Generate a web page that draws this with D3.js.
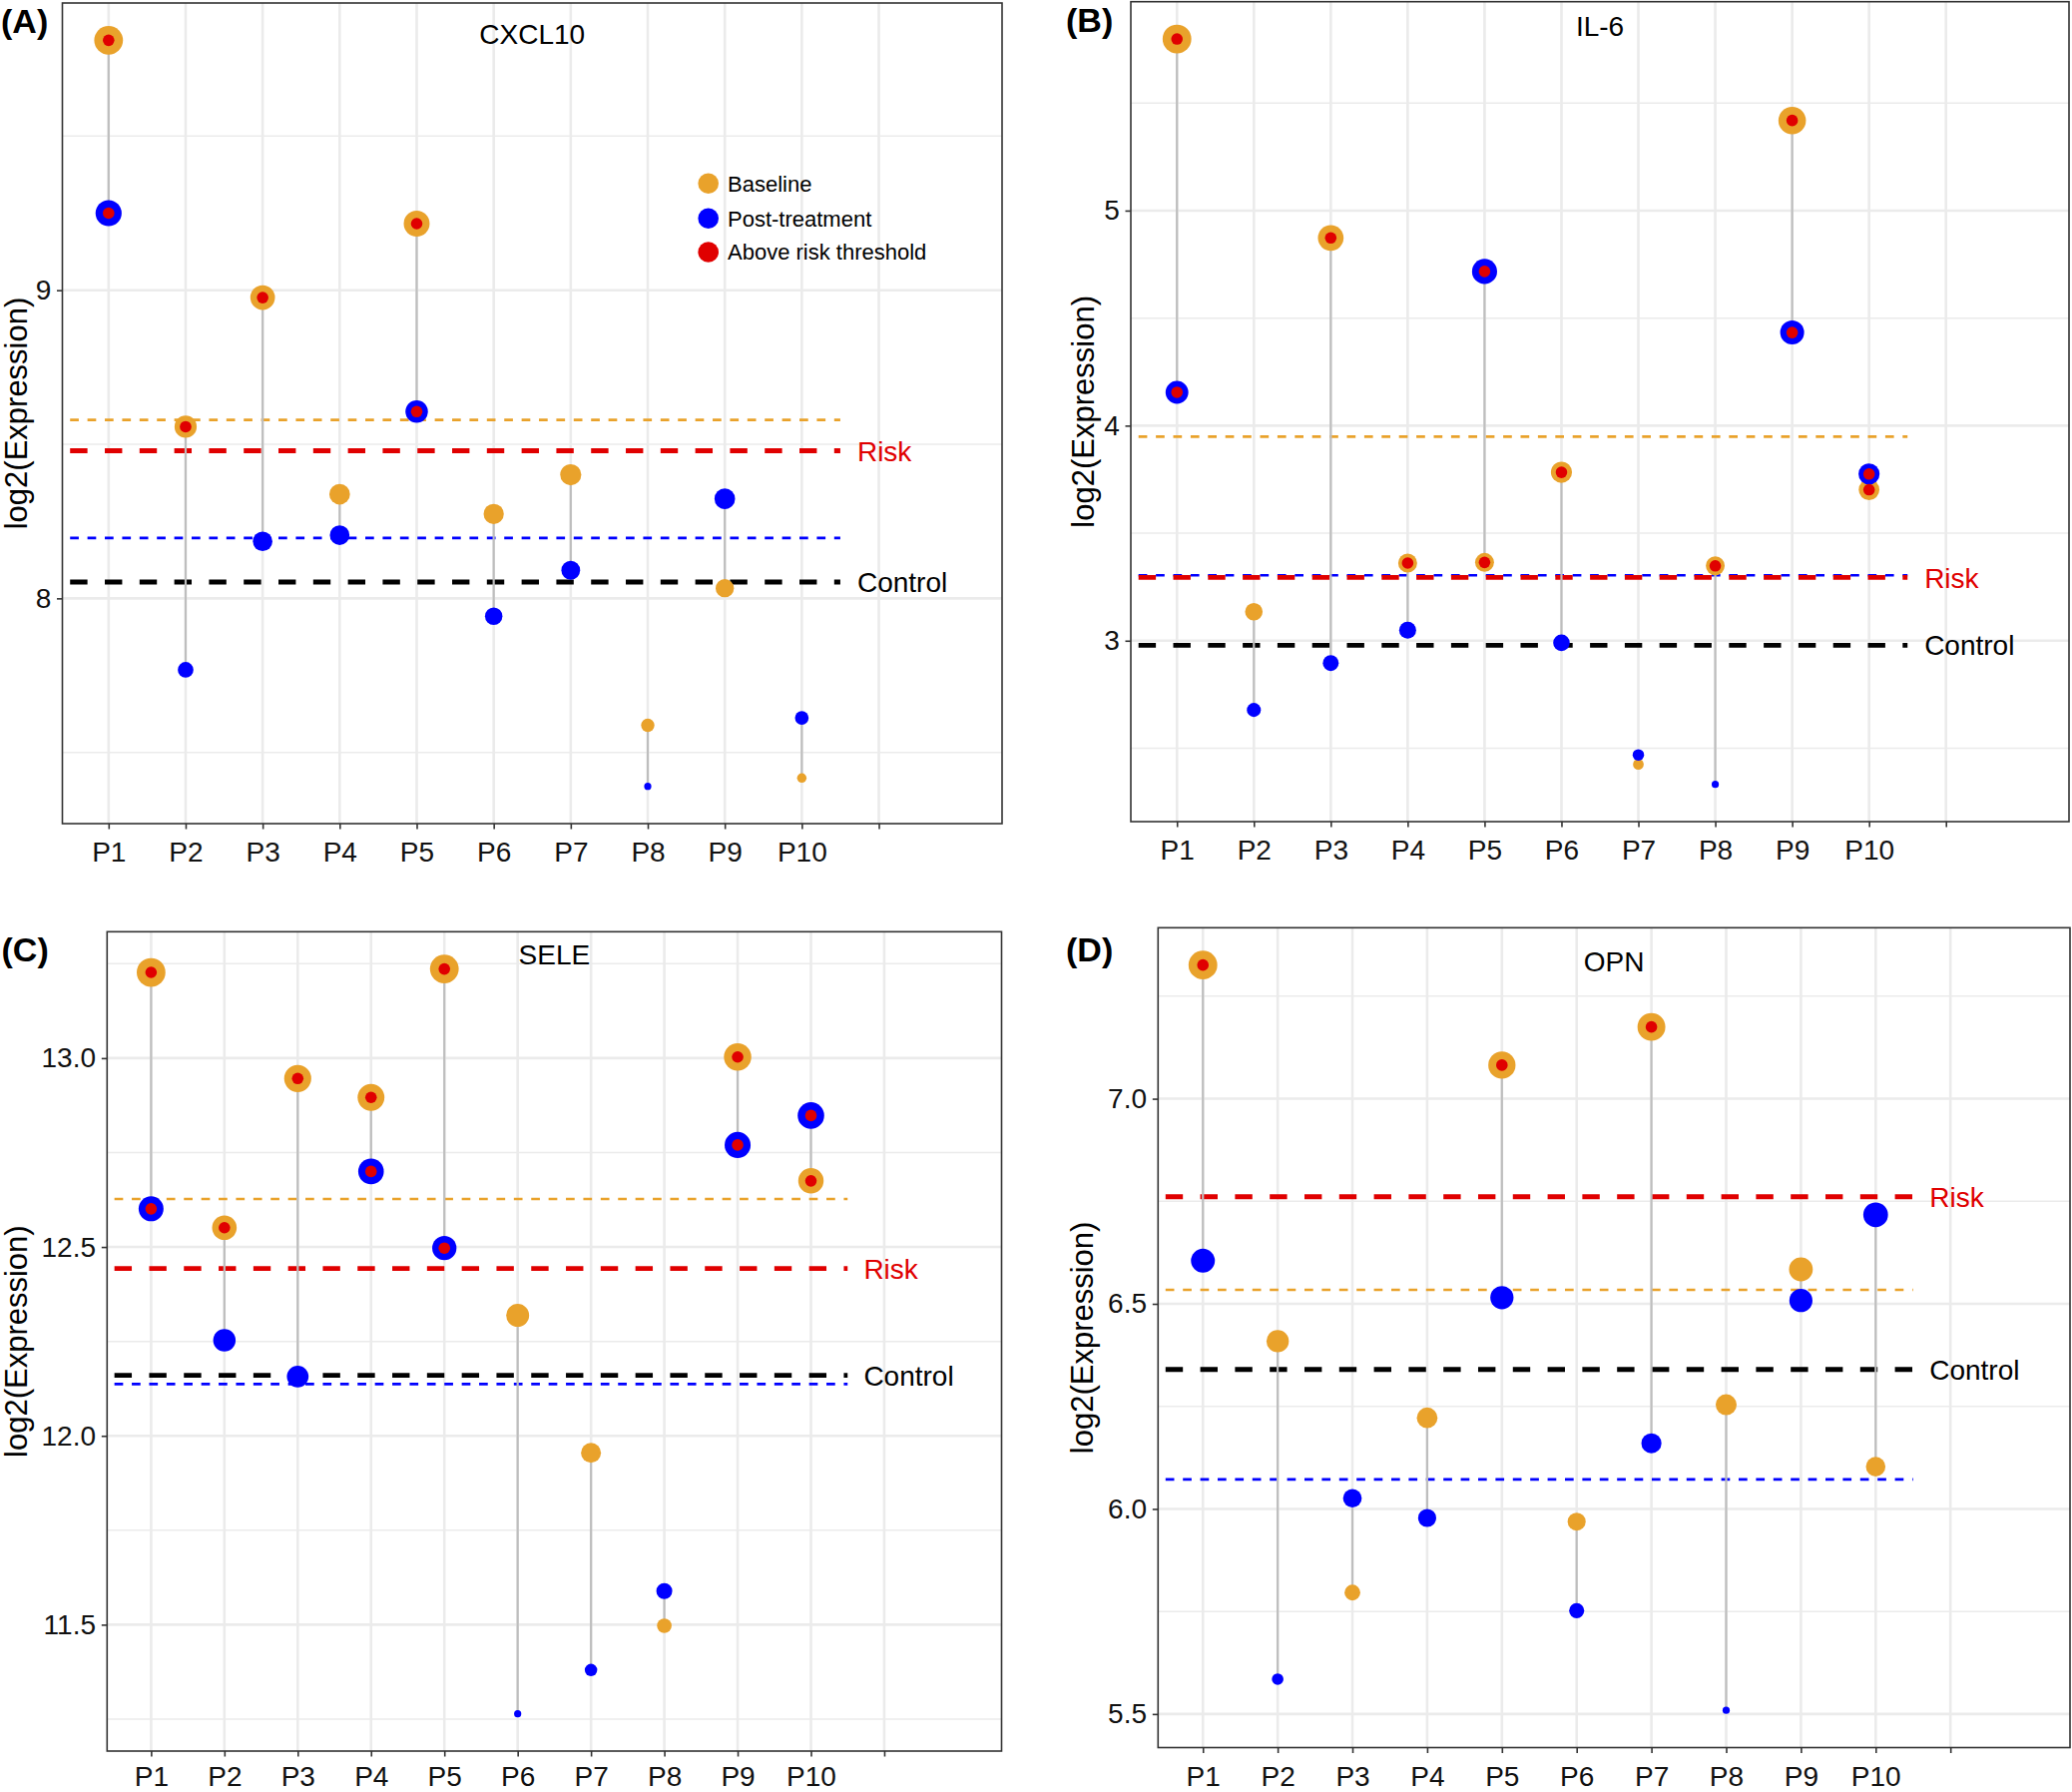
<!DOCTYPE html>
<html>
<head>
<meta charset="utf-8">
<script src="https://cdn.jsdelivr.net/npm/d3@7"></script>
<style>
  body { margin: 0; background: #ffffff; }
  svg { display: block; }
  text { font-family: "Liberation Sans", Arial, Helvetica, sans-serif; }
</style>
</head>
<body>
<svg id="chart" width="2076" height="1795"></svg>
<script>
// ---------------- DATA ----------------
const patients = ["P1", "P2", "P3", "P4", "P5", "P6", "P7", "P8", "P9", "P10"];
const xTickLabels = ["P1", "P2", "P3", "P4", "P5", "P6", "P7", "P8", "P9", "P10", ""];
const genes = ["CXCL10", "IL-6", "SELE", "OPN"];
const panelTags = ["(A)", "(B)", "(C)", "(D)"];

const baselineCXCL10 = [9.811, 8.557, 8.976, 8.338, 9.216, 8.274, 8.401, 7.588, 8.033, 7.417];
const postCXCL10     = [9.250, 7.768, 8.185, 8.205, 8.606, 7.942, 8.091, 7.390, 8.323, 7.612];

const baselineIL6 = [5.798, 3.135, 4.873, 3.361, 3.364, 3.783, 2.425, 3.348, 5.419, 3.702];
const postIL6     = [4.155, 2.678, 2.896, 3.049, 4.717, 2.990, 2.469, 2.332, 4.433, 3.775];

const baselineSELE = [13.227, 12.551, 12.946, 12.896, 13.236, 12.319, 11.955, 11.497, 13.003, 12.675];
const postSELE     = [12.601, 12.253, 12.157, 12.700, 12.497, 11.264, 11.380, 11.589, 12.770, 12.848];

const baselineOPN = [7.326, 6.409, 5.796, 6.222, 7.082, 5.969, 7.175, 6.254, 6.584, 6.103];
const postOPN     = [6.605, 5.585, 6.026, 5.978, 6.515, 5.752, 6.160, 5.509, 6.508, 6.717];

const riskLevels        = [8.479, 3.294, 12.443, 6.761];
const controlLevels     = [8.053, 2.979, 12.160, 6.340];
const baselineRefLevels = [8.579, 3.949, 12.627, 6.534];
const postRefLevels     = [8.196, 3.304, 12.137, 6.072];

const yTicksCXCL10 = [8, 9];
const yTicksIL6    = [3, 4, 5];
const yTicksSELE   = [11.5, 12.0, 12.5, 13.0];
const yTicksOPN    = [5.5, 6.0, 6.5, 7.0];
const yTickFormats = ["d", "d", ".1f", ".1f"];

const legendLabels = ["Baseline", "Post-treatment", "Above risk threshold"];
const refLabels = ["Risk", "Control"];

// ---------------- STYLE / LAYOUT ----------------
const COL_BASE = "#E9A22B";
const COL_POST = "#0000FF";
const COL_RISK = "#E00000";
const COL_SEG  = "#BEBEBE";
const COL_GRID = "#EBEBEB";

const panels = [
  { base: baselineCXCL10, post: postCXCL10, ticks: yTicksCXCL10, xPad: 12.9,
    x0: 62.5, x1: 1004, y0: 3, y1: 825, tagX: 1, tagY: 33, titleY: 44, yTitleX: 27, legend: true },
  { base: baselineIL6, post: postIL6, ticks: yTicksIL6, xPad: 12.9,
    x0: 1133, x1: 2073, y0: 1.7, y1: 823, tagX: 1068, tagY: 32, titleY: 36, yTitleX: 1096, legend: false },
  { base: baselineSELE, post: postSELE, ticks: yTicksSELE, xPad: 9.4,
    x0: 107.3, x1: 1003.5, y0: 933.3, y1: 1754, tagX: 1.5, tagY: 963, titleY: 966, yTitleX: 27, legend: false },
  { base: baselineOPN, post: postOPN, ticks: yTicksOPN, xPad: 12.9,
    x0: 1160.3, x1: 2074, y0: 929.3, y1: 1750.5, tagX: 1068, tagY: 963, titleY: 973, yTitleX: 1095, legend: false }
];

const svg = d3.select("#chart");

panels.forEach((p, i) => {
  const g = svg.append("g");
  const allVals = p.base.concat(p.post);
  const [mn, mx] = d3.extent(allVals);
  const pad = (mx - mn) * 0.05;

  const x = d3.scaleLinear().domain([0.4, 12.6]).range([p.x0, p.x1]);
  const y = d3.scaleLinear().domain([mn - pad, mx + pad]).range([p.y1, p.y0]);
  const tScale = d3.scaleLinear().domain([mn, mx]).range([0, 1]);
  const rScale = d3.scaleSqrt().domain([0, 1]).range([3.6, 14.4]);
  const r = v => rScale(tScale(v));

  // background
  g.append("rect").attr("x", p.x0).attr("y", p.y0)
    .attr("width", p.x1 - p.x0).attr("height", p.y1 - p.y0).attr("fill", "#fff");

  // minor horizontal grid
  const step = p.ticks[1] - p.ticks[0];
  const yDom = y.domain();
  const minor = [];
  for (let v = p.ticks[0] - step / 2; v <= yDom[1] + 1e-9; v += step) {
    if (v >= yDom[0]) minor.push(v);
  }
  g.selectAll(".minor").data(minor).enter().append("line")
    .attr("x1", p.x0).attr("x2", p.x1)
    .attr("y1", d => y(d)).attr("y2", d => y(d))
    .attr("stroke", COL_GRID).attr("stroke-width", 1.5);

  // major horizontal grid
  g.selectAll(".majorY").data(p.ticks).enter().append("line")
    .attr("x1", p.x0).attr("x2", p.x1)
    .attr("y1", d => y(d)).attr("y2", d => y(d))
    .attr("stroke", COL_GRID).attr("stroke-width", 2.6);

  // major vertical grid
  const xTickVals = d3.range(1, xTickLabels.length + 1);
  g.selectAll(".majorX").data(xTickVals).enter().append("line")
    .attr("x1", d => x(d)).attr("x2", d => x(d))
    .attr("y1", p.y0).attr("y2", p.y1)
    .attr("stroke", COL_GRID).attr("stroke-width", 2.6);

  // reference lines
  const refs = [
    { v: baselineRefLevels[i], c: COL_BASE, w: 2.6, dash: "8.7,8.7" },
    { v: postRefLevels[i], c: COL_POST, w: 2.6, dash: "8.7,8.7" },
    { v: riskLevels[i], c: COL_RISK, w: 4.8, dash: "17.4,17.4" },
    { v: controlLevels[i], c: "#000000", w: 4.8, dash: "17.4,17.4" }
  ];
  g.selectAll(".ref").data(refs).enter().append("line")
    .attr("x1", x(0.5)).attr("x2", x(10.5))
    .attr("y1", d => y(d.v)).attr("y2", d => y(d.v))
    .attr("stroke", d => d.c).attr("stroke-width", d => d.w)
    .attr("stroke-dasharray", d => d.dash);

  // Risk / Control labels
  const refText = [
    { t: refLabels[0], v: riskLevels[i], c: COL_RISK },
    { t: refLabels[1], v: controlLevels[i], c: "#000000" }
  ];
  g.selectAll(".refText").data(refText).enter().append("text")
    .attr("x", x(10.72)).attr("y", d => y(d.v)).attr("dy", "0.36em")
    .attr("font-size", 28).attr("fill", d => d.c).text(d => d.t);

  // segments
  const rows = patients.map((pt, k) => ({ k: k + 1, b: p.base[k], a: p.post[k] }));
  g.selectAll(".seg").data(rows).enter().append("line")
    .attr("x1", d => x(d.k)).attr("x2", d => x(d.k))
    .attr("y1", d => y(d.b)).attr("y2", d => y(d.a))
    .attr("stroke", COL_SEG).attr("stroke-width", 2.2);

  // baseline points
  g.selectAll(".bp").data(rows).enter().append("circle")
    .attr("cx", d => x(d.k)).attr("cy", d => y(d.b)).attr("r", d => r(d.b))
    .attr("fill", COL_BASE);
  // post points
  g.selectAll(".pp").data(rows).enter().append("circle")
    .attr("cx", d => x(d.k)).attr("cy", d => y(d.a)).attr("r", d => r(d.a))
    .attr("fill", COL_POST);
  // above-risk markers
  const above = [];
  rows.forEach(d => {
    if (d.b > riskLevels[i]) above.push({ k: d.k, v: d.b });
    if (d.a > riskLevels[i]) above.push({ k: d.k, v: d.a });
  });
  g.selectAll(".rp").data(above).enter().append("circle")
    .attr("cx", d => x(d.k)).attr("cy", d => y(d.v)).attr("r", 5.8)
    .attr("fill", COL_RISK);

  // panel border
  g.append("rect").attr("x", p.x0).attr("y", p.y0)
    .attr("width", p.x1 - p.x0).attr("height", p.y1 - p.y0)
    .attr("fill", "none").attr("stroke", "#333333").attr("stroke-width", 1.6);

  // axes
  const xAxis = d3.axisBottom(x).tickValues(xTickVals)
    .tickFormat((d, j) => xTickLabels[j]).tickSize(5.5).tickPadding(p.xPad);
  const gx = g.append("g").attr("transform", `translate(0,${p.y1})`).call(xAxis);
  gx.select(".domain").remove();
  gx.selectAll(".tick line").attr("stroke", "#333333").attr("stroke-width", 1.6);
  gx.selectAll(".tick text").attr("font-size", 28).attr("fill", "#111111")
    .attr("font-family", '"Liberation Sans", Arial, sans-serif');

  const yAxis = d3.axisLeft(y).tickValues(p.ticks)
    .tickFormat(d3.format(yTickFormats[i])).tickSize(5.5).tickPadding(5.8);
  const gy = g.append("g").attr("transform", `translate(${p.x0},0)`).call(yAxis);
  gy.select(".domain").remove();
  gy.selectAll(".tick line").attr("stroke", "#333333").attr("stroke-width", 1.6);
  gy.selectAll(".tick text").attr("font-size", 28).attr("fill", "#111111")
    .attr("font-family", '"Liberation Sans", Arial, sans-serif');

  // y title
  const cy = (p.y0 + p.y1) / 2;
  g.append("text")
    .attr("transform", `translate(${p.yTitleX},${cy}) rotate(-90)`)
    .attr("text-anchor", "middle").attr("font-size", 31).attr("fill", "#000")
    .text("log2(Expression)");

  // gene title
  g.append("text").attr("x", (p.x0 + p.x1) / 2).attr("y", p.titleY)
    .attr("text-anchor", "middle").attr("font-size", 28).attr("fill", "#000")
    .text(genes[i]);

  // panel tag
  g.append("text").attr("x", p.tagX).attr("y", p.tagY)
    .attr("font-size", 34).attr("font-weight", "bold").attr("fill", "#000")
    .text(panelTags[i]);

  // legend
  if (p.legend) {
    const legCols = [COL_BASE, COL_POST, COL_RISK];
    const legY = [183.7, 218.7, 252.5];
    const lg = g.append("g");
    lg.selectAll("circle").data(legendLabels).enter().append("circle")
      .attr("cx", 709.7).attr("cy", (d, j) => legY[j]).attr("r", 10.3)
      .attr("fill", (d, j) => legCols[j]);
    lg.selectAll("text").data(legendLabels).enter().append("text")
      .attr("x", 729).attr("y", (d, j) => legY[j] + 7.8)
      .attr("font-size", 22).attr("fill", "#000").text(d => d);
  }
});
</script>
</body>
</html>
